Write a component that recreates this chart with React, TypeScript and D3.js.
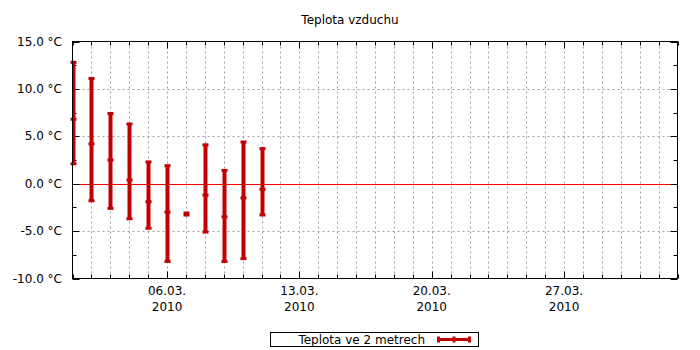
import React from 'react';
import * as d3 from 'd3';

// daily temperature at 2 m: min / mean / max (°C), March 2010
const days = ['2010-03-01', '2010-03-02', '2010-03-03', '2010-03-04', '2010-03-05', '2010-03-06',
  '2010-03-07', '2010-03-08', '2010-03-09', '2010-03-10', '2010-03-11'];
const tMax = [12.8, 11.1, 7.4, 6.3, 2.3, 1.9, -3.2, 4.1, 1.4, 4.4, 3.7];
const tMean = [6.8, 4.2, 2.5, 0.4, -1.9, -3.0, -3.2, -1.2, -3.5, -1.5, -0.6];
const tMin = [2.1, -1.8, -2.6, -3.7, -4.7, -8.2, -3.2, -5.1, -8.2, -7.9, -3.3];

const yTicks = [-10, -5, 0, 5, 10, 15];
const xLabels = ['2010-03-06', '2010-03-13', '2010-03-20', '2010-03-27'];

const W = 700, H = 350;
const left = 72.5, right = 677.5, top = 41.5, bottom = 278.5;
const RED = '#c00000';
const FONT = 'DejaVu Sans, sans-serif';

const App: React.FC = () => {
  const x = d3.scaleUtc()
    .domain([new Date('2010-03-01T00:00:00Z'), new Date('2010-04-02T00:00:00Z')])
    .range([left, right]);
  const y = d3.scaleLinear().domain([-10, 15]).range([bottom, top]);

  const allDays = d3.utcDay.range(new Date('2010-03-01T00:00:00Z'), new Date('2010-04-03T00:00:00Z'));
  const minorY = d3.range(-10, 15.01, 2.5);
  const fmt = d3.utcFormat('%d.%m.');
  const data = days.map((d, i) => ({ date: new Date(d + 'T00:00:00Z'), hi: tMax[i], mean: tMean[i], lo: tMin[i] }));
  const isMajor = (d: Date) => xLabels.includes(d3.utcFormat('%Y-%m-%d')(d));

  return (
    <svg width={W} height={H} style={{ position: 'absolute', left: 0, top: 0, background: '#fff' }}>
      <defs>
        <clipPath id="plot">
          <rect x={left} y={top} width={right - left} height={bottom - top} />
        </clipPath>
      </defs>
      <text x={350} y={24} textAnchor="middle" fontFamily={FONT} fontSize={12}>Teplota vzduchu</text>

      {/* vertical grid every day */}
      {allDays.slice(1, -1).map((d, i) => (
        <line key={'vg' + i} x1={Math.round(x(d)) + 0.5} x2={Math.round(x(d)) + 0.5} y1={top} y2={bottom}
          stroke="#a0a0a0" strokeDasharray="2,3" />
      ))}
      {/* horizontal grid */}
      {yTicks.slice(1, -1).filter(v => v !== 0).map(v => (
        <line key={'hg' + v} x1={left} x2={right} y1={Math.round(y(v)) + 0.5} y2={Math.round(y(v)) + 0.5}
          stroke="#a0a0a0" strokeDasharray="2,3" />
      ))}
      <line x1={left} x2={right} y1={Math.round(y(0)) + 0.5} y2={Math.round(y(0)) + 0.5} stroke="#ff0000" />

      {/* x ticks, bottom and top */}
      {allDays.map((d, i) => {
        const px = Math.round(x(d)) + 0.5;
        const len = isMajor(d) ? 7 : 4;
        return (
          <g key={'xt' + i}>
            <line x1={px} x2={px} y1={bottom} y2={bottom - len} stroke="#000" />
            <line x1={px} x2={px} y1={top} y2={top + len} stroke="#000" />
          </g>
        );
      })}
      {/* y ticks, left and right */}
      {minorY.map(v => {
        const py = Math.round(y(v)) + 0.5;
        const len = v % 5 === 0 ? 7 : 4;
        return (
          <g key={'yt' + v}>
            <line x1={left} x2={left + len} y1={py} y2={py} stroke="#000" />
            <line x1={right} x2={right - len} y1={py} y2={py} stroke="#000" />
          </g>
        );
      })}

      {/* error bars */}
      {data.map((d, i) => {
        const px = Math.round(x(d.date)) + 0.5;
        if (d.hi === d.lo) {
          return <rect key={'b' + i} x={px - 3} y={y(d.mean) - 2.5} width={6} height={5} fill={RED} />;
        }
        return (
          <g key={'b' + i} fill={RED}>
            <rect x={px - 2} y={y(d.hi)} width={4} height={y(d.lo) - y(d.hi)} clipPath="url(#plot)" />
            <rect x={px - 3} y={y(d.hi) - 1.5} width={6} height={3} />
            <rect x={px - 3} y={y(d.lo) - 1.5} width={6} height={3} />
            <rect x={px - 3} y={y(d.mean) - 1.5} width={6} height={3} />
          </g>
        );
      })}

      {/* frame */}
      <rect x={left} y={top} width={right - left} height={bottom - top} fill="none" stroke="#000" />

      {/* y labels */}
      {yTicks.map(v => (
        <text key={'yl' + v} x={62} y={y(v) + 4} textAnchor="end" fontFamily={FONT} fontSize={12}>
          {v.toFixed(1)} °C
        </text>
      ))}
      {/* x labels */}
      {xLabels.map(s => {
        const d = new Date(s + 'T00:00:00Z');
        return (
          <text key={'xl' + s} x={x(d)} textAnchor="middle" fontFamily={FONT} fontSize={12}>
            <tspan x={x(d)} y={295}>{fmt(d)}</tspan>
            <tspan x={x(d)} y={311}>{d3.utcFormat('%Y')(d)}</tspan>
          </text>
        );
      })}

      {/* legend */}
      <rect x={270.5} y={332.5} width={208} height={14} fill="none" stroke="#000" />
      <text x={425} y={344} textAnchor="end" fontFamily={FONT} fontSize={12}>Teplota ve 2 metrech</text>
      <g fill={RED}>
        <rect x={437} y={338} width={34} height={3} />
        <rect x={437} y={336.5} width={3} height={6} />
        <rect x={452.5} y={336.5} width={3} height={6} />
        <rect x={468} y={336.5} width={3} height={6} />
      </g>
    </svg>
  );
};

export default App;
